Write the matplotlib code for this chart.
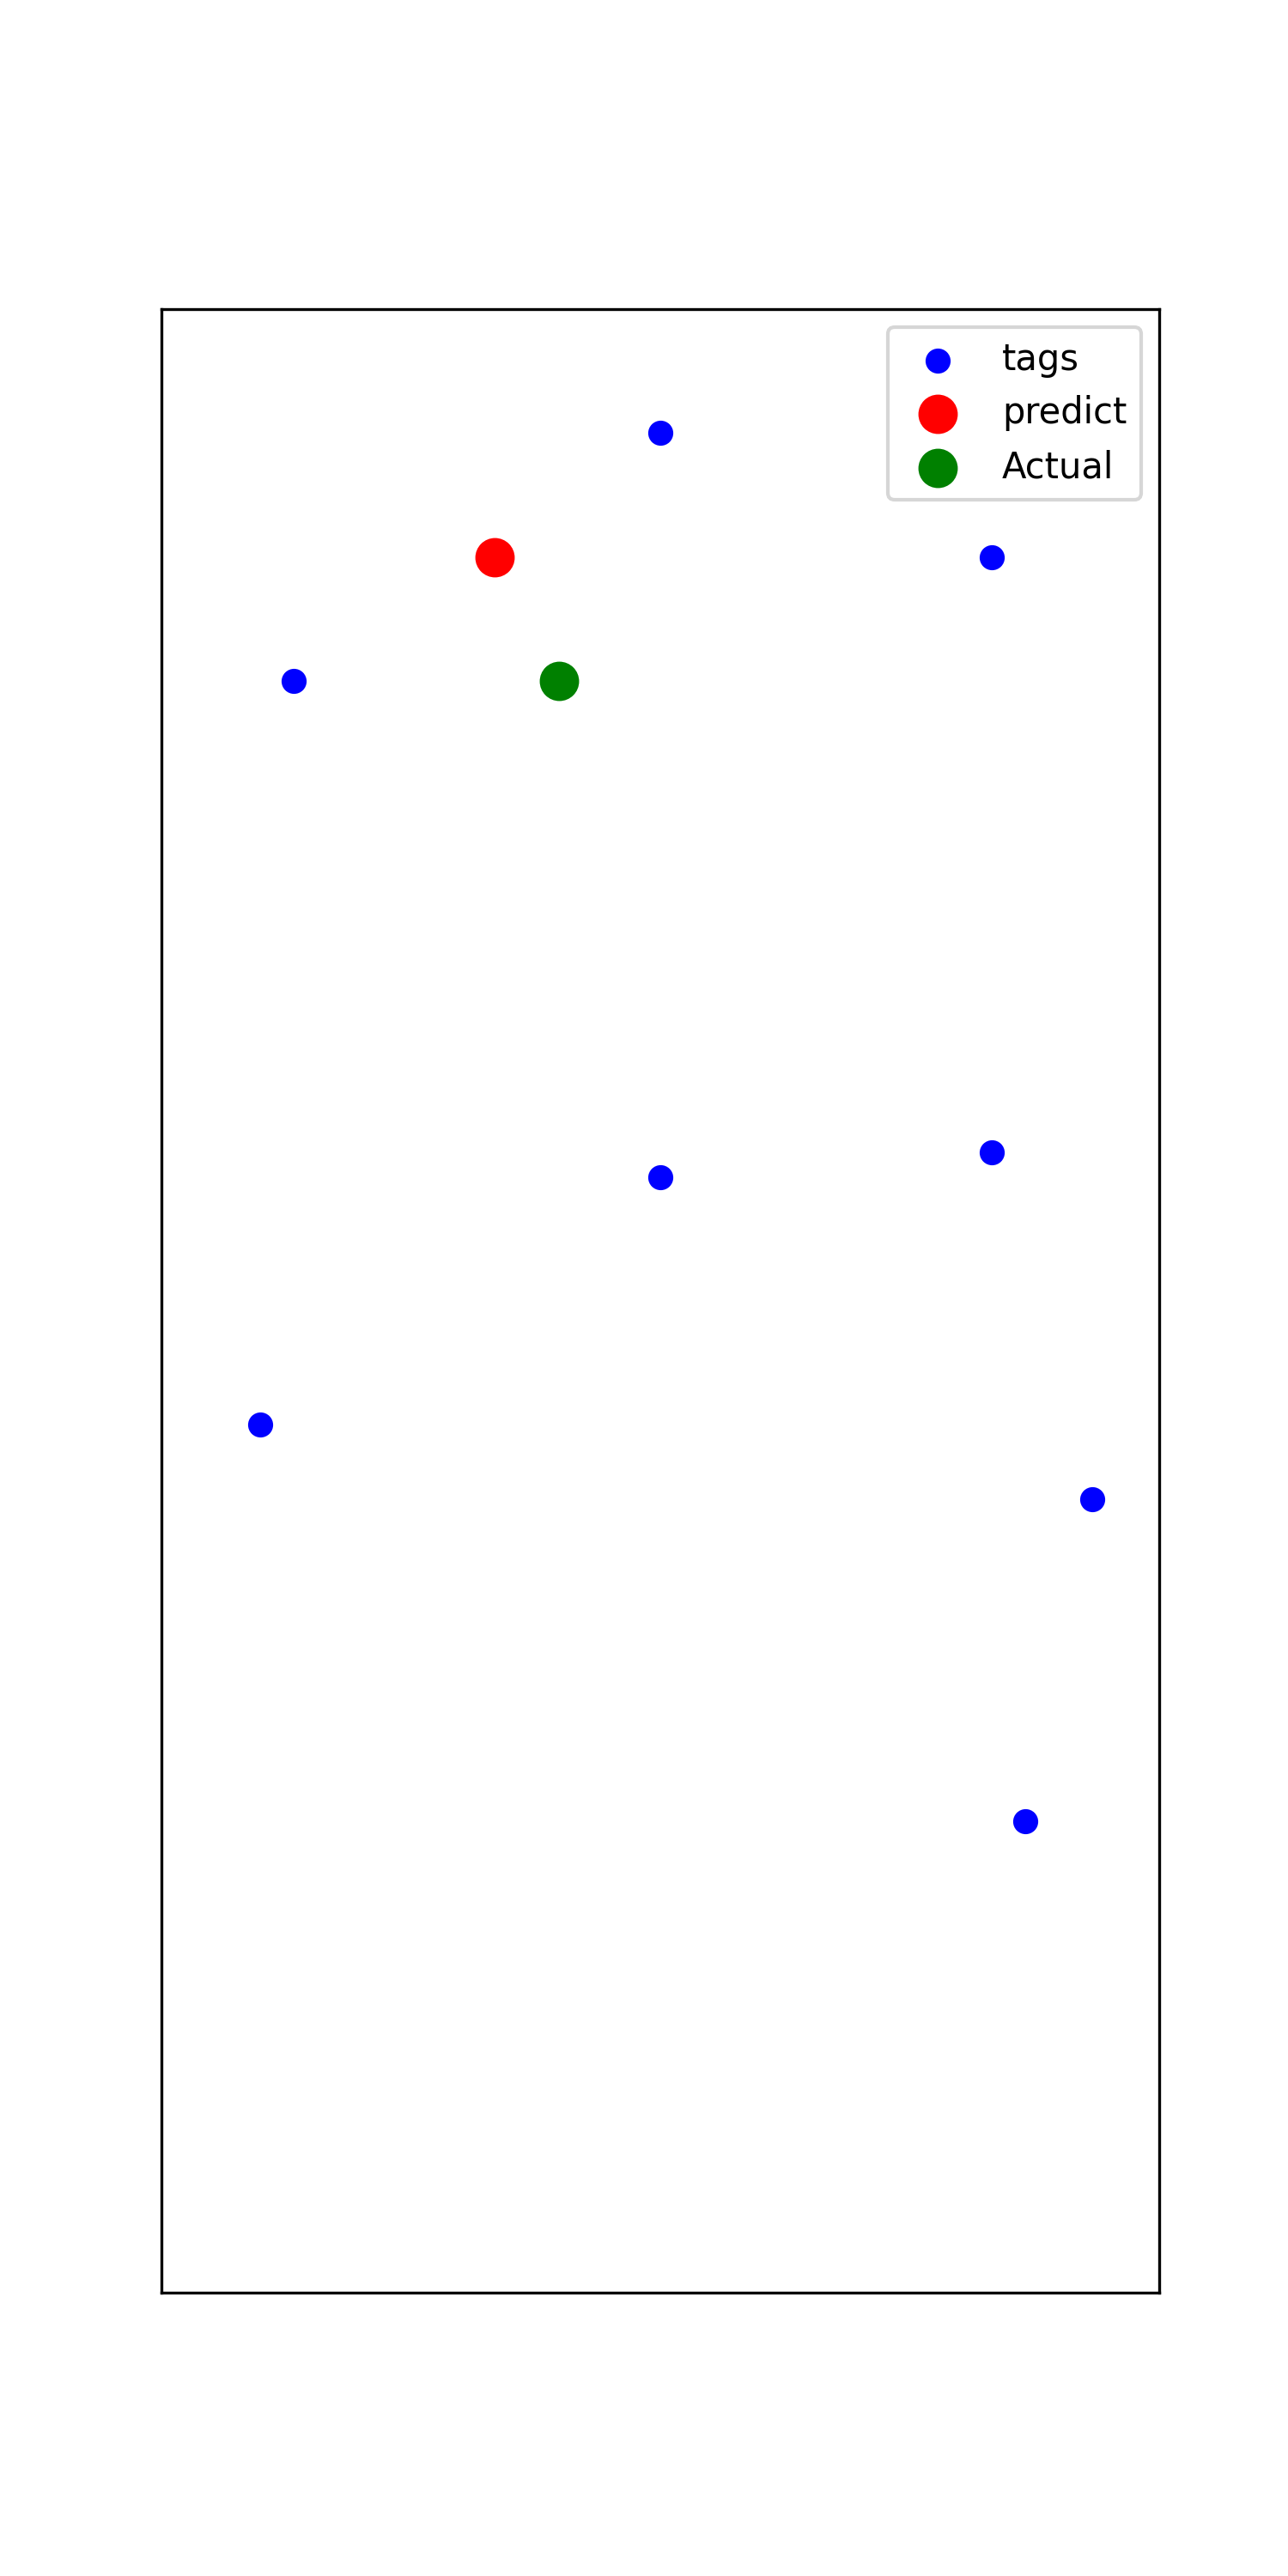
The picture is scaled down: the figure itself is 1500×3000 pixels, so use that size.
import matplotlib
matplotlib.use('Agg')
import matplotlib.pyplot as plt

# tag positions (x, y), y grows downward
tags_x = [4.03, 6.7, 1.07, 4.03, 6.7, 0.8, 7.51, 6.97]
tags_y = [1.0, 2.0, 3.0, 7.0, 6.8, 9.0, 9.6, 12.2]

predict_x = [2.69]
predict_y = [2.0]

actual_x = [3.21]
actual_y = [3.0]

fig = plt.figure(figsize=(5, 10), dpi=300)
ax = fig.add_subplot(111)

ax.scatter(tags_x, tags_y, c="blue", s=36, label="tags")
ax.scatter(predict_x, predict_y, c="red", s=100, label="predict")
ax.scatter(actual_x, actual_y, c="green", s=100, label="Actual")

ax.set_xlim(0, 8.05)
ax.set_ylim(16, 0)
ax.set_xticks([])
ax.set_yticks([])

ax.legend(loc="upper right")
plt.savefig("out.png")
